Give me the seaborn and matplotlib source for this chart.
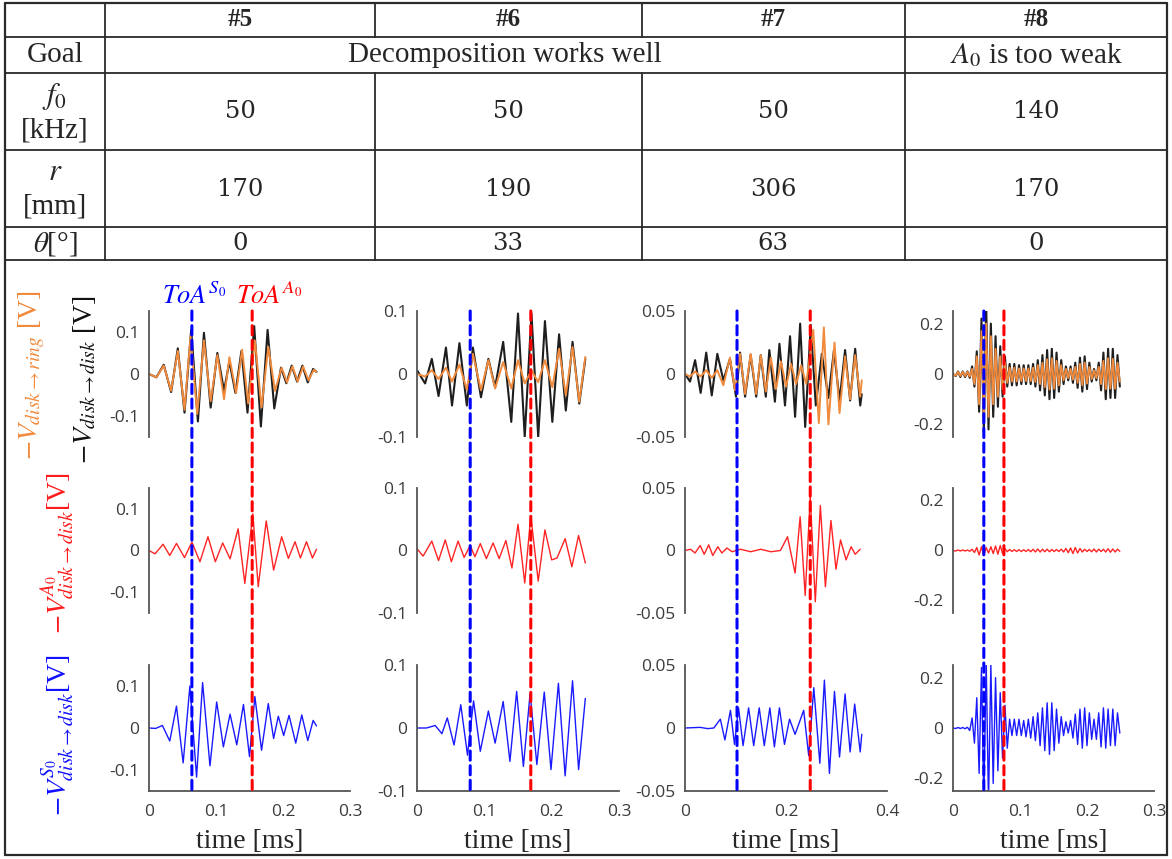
import matplotlib
matplotlib.use("Agg")
import matplotlib.pyplot as plt
from matplotlib.lines import Line2D
from matplotlib.patches import ConnectionPatch
import seaborn as sns

# table contents
case_names = ['#5', '#6', '#7', '#8']
goal_ok = 'Decomposition works well'
goal_weak = r'$A_0$ is too weak'
f0_khz = ['50', '50', '50', '140']
r_mm = ['170', '190', '306', '170']
theta_deg = ['0', '33', '63', '0']

# axis ranges and arrival times
x_max = [0.3, 0.3, 0.4, 0.3]
y_max = [0.15, 0.1, 0.05, 0.25]
y_ticks = [[-0.1, 0, 0.1], [-0.1, 0, 0.1], [-0.05, 0, 0.05], [-0.2, 0, 0.2]]
x_ticks = [[0, 0.1, 0.2, 0.3], [0, 0.1, 0.2, 0.3], [0, 0.2, 0.4], [0, 0.1, 0.2, 0.3]]
toa_s0 = [0.064, 0.079, 0.103, 0.046]
toa_a0 = [0.154, 0.169, 0.248, 0.076]

# waveforms (peaks / troughs), time in ms, voltage in V
# case #5
t5_black = [0, 0.011, 0.022, 0.033, 0.043, 0.053, 0.063, 0.073, 0.082, 0.092, 0.102, 0.112, 0.120, 0.129,
            0.138, 0.147, 0.157, 0.167, 0.177, 0.187, 0.197, 0.205, 0.213, 0.221, 0.229, 0.237, 0.245, 0.250]
v5_black = [0, -0.008, 0.022, -0.043, 0.061, -0.092, 0.105, -0.113, 0.098, -0.080, 0.050, -0.040, 0.030, -0.045,
            0.055, -0.092, 0.114, -0.125, 0.105, -0.082, 0.015, -0.022, 0.020, -0.018, 0.020, -0.020, 0.012, 0.005]
t5_orange = [0, 0.011, 0.022, 0.033, 0.043, 0.053, 0.062, 0.072, 0.082, 0.092, 0.102, 0.112, 0.120, 0.130,
             0.139, 0.148, 0.158, 0.168, 0.178, 0.188, 0.198, 0.206, 0.214, 0.222, 0.230, 0.238, 0.246, 0.250]
v5_orange = [0, -0.008, 0.020, -0.040, 0.055, -0.085, 0.090, -0.095, 0.080, -0.065, 0.045, -0.060, 0.040, -0.045,
             0.058, -0.070, 0.080, -0.080, 0.065, -0.040, 0.015, -0.020, 0.018, -0.018, 0.018, -0.015, 0.010, 0.005]
t5_red = [0, 0.009, 0.021, 0.031, 0.041, 0.053, 0.064, 0.076, 0.088, 0.099, 0.110, 0.121, 0.133, 0.143,
          0.155, 0.163, 0.175, 0.186, 0.198, 0.208, 0.218, 0.226, 0.235, 0.244, 0.250]
v5_red = [0, -0.008, 0.015, -0.012, 0.017, -0.017, 0.020, -0.027, 0.033, -0.027, 0.018, -0.020, 0.052, -0.079,
          0.088, -0.087, 0.071, -0.047, 0.033, -0.019, 0.021, -0.018, 0.021, -0.018, 0.003]
t5_blue = [0, 0.010, 0.020, 0.031, 0.041, 0.051, 0.061, 0.071, 0.080, 0.091, 0.101, 0.111, 0.121, 0.131,
           0.141, 0.150, 0.158, 0.168, 0.178, 0.186, 0.193, 0.201, 0.209, 0.219, 0.228, 0.237, 0.245, 0.250]
v5_blue = [0, -0.001, 0.006, -0.031, 0.052, -0.083, 0.100, -0.117, 0.108, -0.090, 0.062, -0.045, 0.033, -0.040,
           0.056, -0.068, 0.075, -0.053, 0.058, -0.025, 0.028, -0.018, 0.030, -0.036, 0.031, -0.030, 0.018, 0.005]

# case #6
t6_top = [0, 0.012, 0.022, 0.032, 0.043, 0.052, 0.063, 0.074, 0.083, 0.095, 0.106, 0.116, 0.128,
          0.140, 0.150, 0.160, 0.170, 0.180, 0.190, 0.201, 0.211, 0.221, 0.231, 0.241, 0.250]
v6_black = [0.006, -0.015, 0.024, -0.035, 0.042, -0.050, 0.049, -0.050, 0.042, -0.037, 0.024, -0.021, 0.051,
            -0.076, 0.096, -0.100, 0.096, -0.100, 0.084, -0.076, 0.063, -0.058, 0.051, -0.047, 0.024]
v6_orange = [0, -0.004, 0.006, -0.008, 0.010, -0.012, 0.015, -0.025, 0.032, -0.026, 0.022, -0.023, 0.019,
             -0.023, 0.022, -0.015, 0.006, -0.013, 0.022, -0.021, 0.040, -0.034, 0.043, -0.044, 0.027]
t6_red = [0, 0.009, 0.022, 0.032, 0.042, 0.051, 0.061, 0.070, 0.079, 0.086, 0.094, 0.103, 0.113, 0.122,
          0.132, 0.141, 0.150, 0.160, 0.169, 0.180, 0.190, 0.200, 0.208, 0.220, 0.230, 0.240, 0.250]
v6_red = [0.003, -0.009, 0.015, -0.016, 0.017, -0.018, 0.015, -0.011, 0.008, -0.010, 0.011, -0.013, 0.012, -0.013,
          0.016, -0.028, 0.042, -0.052, 0.056, -0.049, 0.033, -0.015, -0.012, 0.019, -0.026, 0.024, -0.020]
t6_blue = [0, 0.014, 0.027, 0.037, 0.045, 0.055, 0.065, 0.075, 0.084, 0.094, 0.106, 0.116, 0.128,
           0.138, 0.148, 0.158, 0.168, 0.178, 0.189, 0.199, 0.210, 0.220, 0.231, 0.240, 0.250]
v6_blue = [0, 0.0, 0.004, -0.009, 0.016, -0.027, 0.037, -0.043, 0.043, -0.037, 0.027, -0.024, 0.042,
           -0.053, 0.058, -0.061, 0.055, -0.058, 0.057, -0.066, 0.071, -0.076, 0.075, -0.066, 0.047]

# case #7
t7_black = [0, 0.010, 0.020, 0.031, 0.042, 0.053, 0.064, 0.076, 0.089, 0.101, 0.109, 0.119, 0.130, 0.141, 0.150,
            0.160, 0.167, 0.178, 0.187, 0.198, 0.208, 0.218, 0.228, 0.238, 0.249, 0.259, 0.271, 0.284, 0.295,
            0.306, 0.317, 0.327, 0.337, 0.347, 0.350]
v7_black = [0, -0.006, 0.011, -0.015, 0.017, -0.017, 0.016, -0.005, 0.012, -0.018, 0.017, -0.018, 0.015, -0.018,
            0.015, -0.018, 0.019, -0.022, 0.024, -0.025, 0.030, -0.034, 0.040, -0.042, 0.039, -0.025, 0.016,
            -0.019, 0.019, -0.021, 0.019, -0.021, 0.020, -0.025, -0.016]
t7_orange = [0, 0.010, 0.020, 0.031, 0.042, 0.053, 0.064, 0.076, 0.089, 0.099, 0.109, 0.119, 0.130, 0.141,
             0.150, 0.160, 0.170, 0.180, 0.190, 0.200, 0.210, 0.220, 0.230, 0.240, 0.254, 0.265, 0.275, 0.284,
             0.296, 0.306, 0.317, 0.327, 0.337, 0.347, 0.350]
v7_orange = [0, -0.002, 0.002, -0.002, 0.003, -0.003, 0.003, -0.009, 0.013, -0.013, 0.016, -0.016, 0.016, -0.016,
             0.015, -0.014, 0.013, -0.012, 0.010, -0.010, 0.008, -0.008, 0.007, -0.008, 0.035, -0.039, 0.037,
             -0.040, 0.025, -0.031, 0.014, -0.020, 0.015, -0.018, -0.005]
t7_red = [0, 0.011, 0.020, 0.030, 0.038, 0.047, 0.055, 0.065, 0.073, 0.083, 0.093, 0.110, 0.130, 0.150, 0.170,
          0.189, 0.203, 0.218, 0.228, 0.238, 0.248, 0.258, 0.268, 0.278, 0.289, 0.299, 0.308, 0.319, 0.329,
          0.337, 0.347]
v7_red = [0, 0.001, -0.002, 0.004, -0.003, 0.0045, -0.004, 0.003, -0.002, 0.002, -0.001, 0.001, -0.001, 0.001,
          -0.001, 0.0, 0.011, -0.018, 0.027, -0.036, 0.043, -0.041, 0.036, -0.029, 0.024, -0.015, 0.0085,
          -0.0075, 0.003, -0.003, 0.001]
t7_blue = [0, 0.030, 0.045, 0.057, 0.070, 0.079, 0.090, 0.098, 0.106, 0.115, 0.126, 0.136, 0.147, 0.157, 0.168,
           0.177, 0.187, 0.197, 0.207, 0.218, 0.235, 0.245, 0.255, 0.267, 0.276, 0.286, 0.296, 0.306, 0.317,
           0.327, 0.336, 0.347, 0.350]
v7_blue = [0, 0.0005, -0.0005, 0.0, 0.007, -0.0095, 0.014, -0.013, 0.016, -0.014, 0.016, -0.014, 0.016, -0.014,
           0.016, -0.015, 0.016, -0.013, 0.007, -0.005, 0.014, -0.022, 0.032, -0.028, 0.038, -0.036, 0.029,
           -0.023, 0.027, -0.019, 0.019, -0.019, -0.005]

# case #8 (140 kHz, all four traces share one time grid)
t8 = [0, 0.004, 0.0075, 0.011, 0.0145, 0.018, 0.0215, 0.025,
      0.0285, 0.032, 0.0355, 0.039, 0.0425, 0.046, 0.0495, 0.053,
      0.0565, 0.060, 0.0635, 0.067, 0.0705, 0.074, 0.0775, 0.081,
      0.0845, 0.088, 0.0915, 0.095, 0.0985, 0.102, 0.1055, 0.109,
      0.1125, 0.116, 0.1195, 0.123, 0.1265, 0.130, 0.1335, 0.137,
      0.1405, 0.144, 0.1475, 0.151, 0.1545, 0.158, 0.1615, 0.165,
      0.1685, 0.172, 0.1755, 0.179, 0.1825, 0.186, 0.1895, 0.193,
      0.1965, 0.200, 0.2035, 0.207, 0.2105, 0.214, 0.2175, 0.221,
      0.2245, 0.228, 0.2315, 0.235, 0.2385, 0.242, 0.2455, 0.249]
v8_black = [0, -0.008, 0.010, -0.012, 0.010, -0.012, 0.010, -0.015,
            0.030, -0.050, 0.090, -0.150, 0.220, -0.230, 0.280, -0.220,
            0.200, -0.170, 0.150, -0.130, 0.110, -0.090, 0.070, -0.050,
            0.040, -0.045, 0.040, -0.045, 0.035, -0.040, 0.035, -0.040,
            0.035, -0.040, 0.040, -0.050, 0.055, -0.065, 0.075, -0.085,
            0.095, -0.100, 0.100, -0.095, 0.085, -0.070, 0.055, -0.040,
            0.030, -0.025, 0.030, -0.035, 0.045, -0.055, 0.065, -0.070,
            0.070, -0.060, 0.045, -0.030, 0.020, -0.025, 0.045, -0.065,
            0.085, -0.100, 0.100, -0.095, 0.100, -0.095, 0.075, -0.050]
v8_orange = [0, -0.006, 0.008, -0.008, 0.008, -0.008, 0.008, -0.010,
             0.020, -0.040, 0.070, -0.120, 0.170, -0.180, 0.200, -0.170,
             0.150, -0.120, 0.100, -0.090, 0.070, -0.060, 0.045, -0.035,
             0.025, -0.030, 0.025, -0.030, 0.022, -0.028, 0.022, -0.028,
             0.022, -0.028, 0.025, -0.032, 0.035, -0.040, 0.045, -0.052,
             0.058, -0.062, 0.062, -0.058, 0.052, -0.045, 0.035, -0.025,
             0.020, -0.016, 0.020, -0.022, 0.028, -0.035, 0.040, -0.045,
             0.045, -0.038, 0.028, -0.020, 0.014, -0.016, 0.028, -0.040,
             0.052, -0.060, 0.062, -0.058, 0.060, -0.058, 0.045, -0.030]
v8_red = [0, -0.002, 0.002, -0.002, 0.002, -0.002, 0.002, -0.003,
          0.005, -0.008, 0.012, -0.018, 0.015, -0.020, 0.012, -0.010,
          0.015, -0.012, 0.018, -0.015, 0.020, -0.012, 0.008, -0.005,
          0.004, -0.004, 0.003, -0.004, 0.003, -0.004, 0.003, -0.004,
          0.004, -0.005, 0.005, -0.006, 0.006, -0.006, 0.005, -0.005,
          0.005, -0.005, 0.004, -0.004, 0.004, -0.004, 0.005, -0.006,
          0.008, -0.009, 0.010, -0.012, 0.012, -0.010, 0.008, -0.006,
          0.005, -0.004, 0.004, -0.005, 0.006, -0.006, 0.005, -0.004,
          0.005, -0.006, 0.007, -0.007, 0.006, -0.006, 0.005, -0.003]
v8_blue = [0, -0.002, 0.002, -0.002, 0.002, -0.003, 0.003, -0.010,
           0.040, -0.060, 0.120, -0.180, 0.240, -0.300, 0.270, -0.300,
           0.250, -0.220, 0.200, -0.170, 0.140, -0.120, 0.090, -0.080,
           0.035, -0.030, 0.035, -0.030, 0.035, -0.030, 0.030, -0.035,
           0.035, -0.040, 0.045, -0.050, 0.060, -0.070, 0.080, -0.090,
           0.100, -0.105, 0.100, -0.090, 0.075, -0.060, 0.045, -0.030,
           0.025, -0.020, 0.030, -0.040, 0.055, -0.065, 0.075, -0.080,
           0.080, -0.070, 0.060, -0.045, 0.035, -0.045, 0.060, -0.075,
           0.080, -0.080, 0.075, -0.070, 0.075, -0.070, 0.060, -0.020]

top_traces = [[(t5_black, v5_black), (t5_orange, v5_orange)],
              [(t6_top, v6_black), (t6_top, v6_orange)],
              [(t7_black, v7_black), (t7_orange, v7_orange)],
              [(t8, v8_black), (t8, v8_orange)]]
mid_traces = [(t5_red, v5_red), (t6_red, v6_red), (t7_red, v7_red), (t8, v8_red)]
bot_traces = [(t5_blue, v5_blue), (t6_blue, v6_blue), (t7_blue, v7_blue), (t8, v8_blue)]

C_BLACK = '#1e1e1e'
C_ORANGE = '#f08a3c'
C_RED = '#ff2424'
C_BLUE = '#1a1aff'
C_AX = '#555555'
C_TICK = '#3c3c3c'

sns.set_style('white')
plt.rcParams['font.family'] = ['Liberation Serif', 'DejaVu Serif']
plt.rcParams['mathtext.fontset'] = 'stix'
plt.rcParams['axes.unicode_minus'] = False

W, H = 1172, 859
fig = plt.figure(figsize=(W / 100, H / 100), dpi=100)


def fx(x):
    return x / W


def fy(y):
    return 1 - y / H


def hline(y, x0, x1, lw=1.3):
    fig.add_artist(Line2D([fx(x0), fx(x1)], [fy(y), fy(y)], transform=fig.transFigure, color='#2a2a2a', lw=lw))


def vline(x, y0, y1, lw=1.3):
    fig.add_artist(Line2D([fx(x), fx(x)], [fy(y0), fy(y1)], transform=fig.transFigure, color='#2a2a2a', lw=lw))


# table grid
L, R, T, B = 5, 1167, 3, 855
row_y = [3, 37, 73, 150, 227, 260]
for y in row_y[1:]:
    hline(y, L, R)
hline(T, L, R, 1.6)
hline(B, L, R, 1.6)
vline(L, T, B, 1.6)
vline(R, T, B, 1.6)
vline(105, T, 260)
vline(905, T, 260)
for x in [375, 642]:
    vline(x, 3, 37)
    vline(x, 73, 260)

col_mid = [240, 508, 773, 1036]
for i in range(4):
    fig.text(fx(col_mid[i]), fy(20), case_names[i], ha='center', va='center', fontsize=18, fontweight='bold')
    fig.text(fx(col_mid[i]), fy(112), f0_khz[i], ha='center', va='center', fontsize=17.5, family='DejaVu Serif')
    fig.text(fx(col_mid[i]), fy(189), r_mm[i], ha='center', va='center', fontsize=17.5, family='DejaVu Serif')
    fig.text(fx(col_mid[i]), fy(244), theta_deg[i], ha='center', va='center', fontsize=17.5, family='DejaVu Serif')

fig.text(fx(55), fy(55), 'Goal', ha='center', va='center', fontsize=21)
fig.text(fx(505), fy(55), goal_ok, ha='center', va='center', fontsize=21)
fig.text(fx(1036), fy(55), goal_weak, ha='center', va='center', fontsize=21)
fig.text(fx(55), fy(97), r'$f_0$', ha='center', va='center', fontsize=22)
fig.text(fx(55), fy(131), '[kHz]', ha='center', va='center', fontsize=21)
fig.text(fx(55), fy(172), r'$r$', ha='center', va='center', fontsize=22)
fig.text(fx(55), fy(207), '[mm]', ha='center', va='center', fontsize=21)
fig.text(fx(55), fy(244), r'$\theta$[°]', ha='center', va='center', fontsize=21)

# plot grid
col_px = [(149, 350), (417, 619), (685, 887), (953, 1154)]
row_px = [(311, 437), (488, 613), (665, 791)]


def fmt(v):
    return '0' if v == 0 else f'{v:g}'


def make_axes(ci, ri):
    x0, x1 = col_px[ci]
    y0, y1 = row_px[ri]
    ax = fig.add_axes([fx(x0), fy(y1), fx(x1) - fx(x0), fy(y0) - fy(y1)])
    ax.patch.set_alpha(0)
    ax.set_xlim(0, x_max[ci])
    ax.set_ylim(-y_max[ci], y_max[ci])
    ax.spines['top'].set_visible(False)
    ax.spines['right'].set_visible(False)
    ax.spines['left'].set_color(C_AX)
    ax.spines['left'].set_linewidth(1.3)
    ax.set_yticks(y_ticks[ci])
    ax.set_yticklabels([fmt(v) for v in y_ticks[ci]], family='Open Sans', fontsize=12.5, color=C_TICK)
    if ri == 2:
        ax.spines['bottom'].set_color(C_AX)
        ax.spines['bottom'].set_linewidth(1.3)
        ax.set_xticks(x_ticks[ci])
        ax.set_xticklabels([fmt(v) for v in x_ticks[ci]], family='Open Sans', fontsize=12.5, color=C_TICK)
    else:
        ax.spines['bottom'].set_visible(False)
        ax.set_xticks([])
    ax.tick_params(axis='y', direction='in', length=4, width=1, color=C_AX, pad=7)
    ax.tick_params(axis='x', direction='in', length=4, width=1, color=C_AX, pad=9)
    return ax


for ci in range(4):
    ax_top = make_axes(ci, 0)
    (tb, vb), (to, vo) = top_traces[ci]
    sns.lineplot(x=tb, y=vb, ax=ax_top, color=C_BLACK, linewidth=1.5, estimator=None, sort=False)
    sns.lineplot(x=to, y=vo, ax=ax_top, color=C_ORANGE, linewidth=1.4, estimator=None, sort=False)

    ax_mid = make_axes(ci, 1)
    tr, vr = mid_traces[ci]
    sns.lineplot(x=tr, y=vr, ax=ax_mid, color=C_RED, linewidth=1.0, estimator=None, sort=False)

    ax_bot = make_axes(ci, 2)
    tbl, vbl = bot_traces[ci]
    sns.lineplot(x=tbl, y=vbl, ax=ax_bot, color=C_BLUE, linewidth=1.0, estimator=None, sort=False)

    for a in (ax_top, ax_mid, ax_bot):
        a.set_xlabel('')
        a.set_ylabel('')
        for ln in a.get_lines():
            ln.set_solid_joinstyle('round')

    for t, c in [(toa_s0[ci], '#0000ff'), (toa_a0[ci], '#ff0000')]:
        con = ConnectionPatch(xyA=(t, y_max[ci]), coordsA='data', axesA=ax_top,
                              xyB=(t, -y_max[ci]), coordsB='data', axesB=ax_bot,
                              color=c, lw=2.2, linestyle=(0, (3, 1.8)), zorder=10)
        fig.add_artist(con)

    xm = (col_px[ci][0] + col_px[ci][1]) / 2
    fig.text(fx(xm), fy(841), 'time [ms]', ha='center', va='center', fontsize=20)

# arrival-time labels above case #5
fig.text(fx(162), fy(304), r'$ToA^{S_0}$', ha='left', va='baseline', fontsize=19, color='#0000ff')
fig.text(fx(236), fy(304), r'$ToA^{A_0}$', ha='left', va='baseline', fontsize=19, color='#ff0000')

# y labels of the three rows
fig.text(fx(32), fy(375), r'$-V_{disk\rightarrow ring}$ [V]', rotation=90, ha='center', va='center',
         fontsize=20, color=C_ORANGE)
fig.text(fx(85), fy(380), r'$-V_{disk\rightarrow disk}$ [V]', rotation=90, ha='center', va='center',
         fontsize=20, color='#111111')
fig.text(fx(58), fy(553), r'$-V^{A_0}_{disk\rightarrow disk}$[V]', rotation=90, ha='center', va='center',
         fontsize=20, color='#ff1a1a')
fig.text(fx(58), fy(735), r'$-V^{S_0}_{disk\rightarrow disk}$[V]', rotation=90, ha='center', va='center',
         fontsize=20, color='#1010ff')

fig.savefig('out.png', dpi=100)
